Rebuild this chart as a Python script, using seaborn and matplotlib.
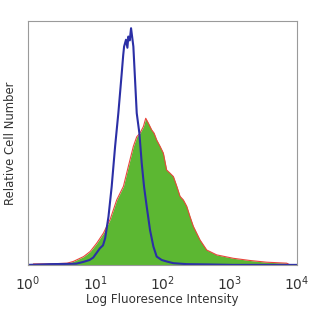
import numpy as np
import pandas as pd
import matplotlib.pyplot as plt
import seaborn as sns
plt.switch_backend('Agg')

# isotype control (blue outline)
ctrl_x = [1.0, 2.1, 3.8, 5.2, 6.6, 8.2, 9.3, 10.5, 11.7, 13.0, 14.0, 15.7, 17.5, 19.7, 22.0,
          24.7, 26.0, 26.8, 28.6, 30.0, 31.0, 32.5, 34.0, 36.8, 39.0, 41.3, 45.2, 49.0,
          53.1, 58.2, 65.2, 73.1, 81.8, 97.3, 115, 145, 229, 454, 1122, 10000]
ctrl_y = [0.0, 0.003, 0.004, 0.005, 0.012, 0.02, 0.03, 0.05, 0.068, 0.08, 0.109, 0.198, 0.32,
          0.486, 0.622, 0.785, 0.86, 0.895, 0.923, 0.89, 0.936, 0.92, 0.97, 0.895, 0.758,
          0.622, 0.54, 0.417, 0.32, 0.238, 0.142, 0.075, 0.034, 0.02, 0.014, 0.007, 0.003,
          0.002, 0.0, 0.0]

# stained sample (green filled, red edge)
stain_x = [1.2, 2.1, 3.8, 4.7, 6.7, 8.4, 10.5, 13.2, 16.6, 20.8, 26.2, 31.0, 36.8, 41.3,
           46.2, 51.9, 56.2, 61.5, 69.0, 74.8, 81.8, 91.8, 102.8, 115, 129, 145, 163, 182,
           204, 229, 256, 287, 361, 454, 638, 1130, 2000, 3540, 7015, 7870]
stain_y = [0.004, 0.004, 0.007, 0.014, 0.034, 0.055, 0.089, 0.13, 0.186, 0.266, 0.322,
           0.404, 0.486, 0.525, 0.54, 0.567, 0.601, 0.581, 0.553, 0.54, 0.512, 0.486,
           0.458, 0.389, 0.376, 0.362, 0.322, 0.281, 0.266, 0.24, 0.198, 0.158, 0.102,
           0.061, 0.041, 0.027, 0.018, 0.011, 0.007, 0.0]

sns.set_style('white')
plt.rcParams['font.family'] = ['DejaVu Sans']

ctrl = pd.DataFrame({'x': ctrl_x, 'y': ctrl_y})
stain = pd.DataFrame({'x': stain_x, 'y': stain_y})

fig = plt.figure(figsize=(3.12, 3.12), dpi=100)
ax = fig.add_axes([0.09, 0.151, 0.862, 0.782])

ax.fill_between(stain['x'], 0, stain['y'], color='#5cb732', lw=0)
sns.lineplot(data=stain, x='x', y='y', ax=ax, color='#e8463c', lw=0.8)
sns.lineplot(data=ctrl, x='x', y='y', ax=ax, color='#2b2fa6', lw=1.5)

ax.set_xscale('log')
ax.set_xlim(1, 1e4)
ax.set_ylim(0, 1.0)
ax.set_xticks([1, 10, 100, 1000, 10000])
ax.set_xticklabels(['$10^0$', '$10^1$', '$10^2$', '$10^3$', '$10^4$'])
ax.minorticks_off()
ax.set_yticks([])
ax.tick_params(axis='x', length=0, pad=7, labelsize=10, colors='#333333')
ax.set_xlabel('Log Fluoresence Intensity', fontsize=8.6, color='#333333', labelpad=0)
ax.set_ylabel('Relative Cell Number', fontsize=8.4, color='#333333', labelpad=8)
for s in ax.spines.values():
    s.set_color('#9a9a9a')
    s.set_linewidth(0.8)

fig.savefig('out.png', dpi=100)
